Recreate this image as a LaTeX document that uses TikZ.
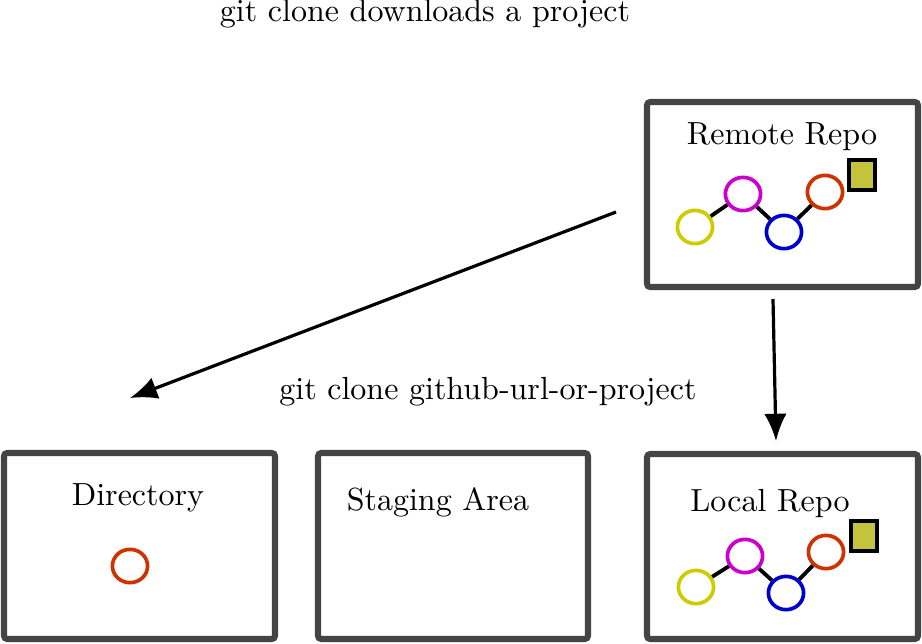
\documentclass[tikz,border=0pt]{standalone}
\usetikzlibrary{arrows.meta,shapes.geometric}
\definecolor{boxgray}{HTML}{444444}
\definecolor{cyel}{HTML}{CCCC00}
\definecolor{cmag}{HTML}{CC00CC}
\definecolor{cblu}{HTML}{0000CC}
\definecolor{cred}{HTML}{CC3300}
\definecolor{sqfill}{HTML}{C4C43C}
\tikzset{
  area/.style={draw=boxgray,line width=1.9pt,rounded corners=1pt},
  commit/.style={ellipse,draw=#1,line width=1.15pt,inner sep=0pt,minimum width=11pt,minimum height=10.4pt},
  link/.style={line width=1.2pt,black},
  tag/.style={rectangle,draw=black,fill=sqfill,line width=1.2pt,inner sep=0pt,minimum width=8.1pt,minimum height=9.6pt},
  label/.style={inner sep=0pt,font=\normalsize},
  flow/.style={line width=1pt,-{Latex[length=8.5pt,width=7pt]}}
}
\begin{document}
\begin{tikzpicture}[x=0.3125pt,y=-0.3125pt]
\useasboundingbox (0,0) rectangle (922,643);
% boxes
\draw[area] (647,102) rectangle (918,287);
\draw[area] (4,453) rectangle (275,639);
\draw[area] (318,453) rectangle (588,639);
\draw[area] (647,454) rectangle (918,639);
% texts
\node[label] (title) at (425,14) {git clone downloads a project};
\node[label] (remote) at (782,137) {Remote Repo};
\node[label] (cmd) at (488,392) {git clone github-url-or-project};
\node[label] (dir) at (138,498) {Directory};
\node[label] (stage) at (438,502) {Staging Area};
\node[label] (local) at (770,503) {Local Repo};
% remote commits
\node[commit=cyel] (r1) at (695,227) {};
\node[commit=cmag] (r2) at (743,194) {};
\node[commit=cblu] (r3) at (784,232) {};
\node[commit=cred] (r4) at (825,192) {};
\node[tag] (rt) at (862,175) {};
\draw[link] (r1) -- (r2);
\draw[link] (r2) -- (r3);
\draw[link] (r3) -- (r4);
% local commits
\node[commit=cyel] (l1) at (696,587) {};
\node[commit=cmag] (l2) at (745,556) {};
\node[commit=cblu] (l3) at (786,593) {};
\node[commit=cred] (l4) at (826,552) {};
\node[tag] (lt) at (864,536) {};
\draw[link] (l1) -- (l2);
\draw[link] (l2) -- (l3);
\draw[link] (l3) -- (l4);
% directory file
\node[commit=cred] (d1) at (130,566) {};
% arrows
\coordinate (a1s) at (616,212);
\coordinate (a1e) at (130,398);
\coordinate (a2s) at (773,299);
\coordinate (a2e) at (776,441);
\draw[flow] (a1s) -- (a1e);
\draw[flow] (a2s) -- (a2e);
\end{tikzpicture}
\end{document}
